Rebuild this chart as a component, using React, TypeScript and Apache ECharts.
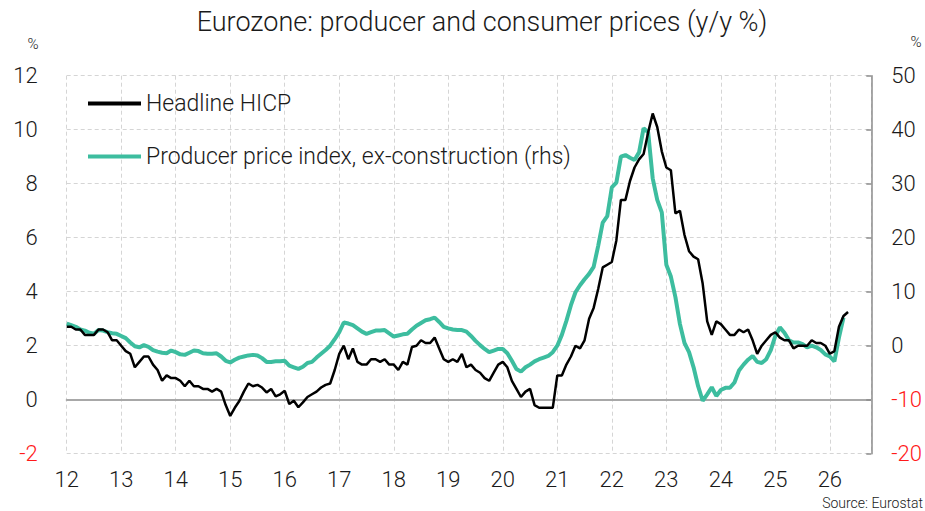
import { useEffect, useRef } from "react";
import * as echarts from "echarts";

const START_YEAR = 2012;
const X_MAX = 2026.76;

const hicpName = "Headline HICP";
const ppiName = "Producer price index, ex-construction (rhs)";
const titleText = "Eurozone: producer and consumer prices (y/y %)";
const sourceText = "Source: Eurostat";

// Monthly, Jan 2012 onwards (y/y %)
const hicp = [
  2.7, 2.7, 2.6, 2.6, 2.4, 2.4, 2.4, 2.6, 2.6, 2.5, 2.2, 2.2,
  2.0, 1.8, 1.7, 1.2, 1.4, 1.6, 1.6, 1.3, 1.1, 0.7, 0.9, 0.8,
  0.8, 0.7, 0.5, 0.7, 0.5, 0.5, 0.4, 0.4, 0.3, 0.4, 0.3, -0.2,
  -0.6, -0.3, -0.05, 0.3, 0.6, 0.5, 0.55, 0.45, 0.27, 0.4, 0.12, 0.2,
  0.33, -0.16, -0.04, -0.28, -0.1, 0.1, 0.2, 0.3, 0.45, 0.55, 0.6, 1.1,
  1.7, 2.0, 1.5, 1.9, 1.4, 1.3, 1.3, 1.5, 1.5, 1.4, 1.5, 1.3,
  1.3, 1.1, 1.4, 1.3, 1.95, 2.0, 2.2, 2.1, 2.1, 2.3, 1.9, 1.5,
  1.4, 1.5, 1.4, 1.7, 1.2, 1.3, 1.1, 1.0, 0.8, 0.7, 1.0, 1.3,
  1.4, 1.2, 0.7, 0.4, 0.1, 0.3, 0.4, -0.2, -0.3, -0.3, -0.3, -0.3,
  0.9, 0.9, 1.3, 1.6, 2.0, 1.9, 2.2, 3.0, 3.4, 4.1, 4.9, 5.0,
  5.1, 5.9, 7.4, 7.4, 8.1, 8.6, 8.9, 9.1, 9.9, 10.6, 10.1, 9.2,
  8.6, 8.5, 6.9, 7.0, 6.1, 5.5, 5.3, 5.2, 4.3, 2.9, 2.4, 2.9,
  2.8, 2.6, 2.4, 2.4, 2.6, 2.5, 2.6, 2.2, 1.7, 2.0, 2.2, 2.4,
  2.5, 2.3, 2.2, 2.2, 1.9, 2.0, 2.0, 2.0, 2.2, 2.1, 2.1, 2.0,
  1.7, 1.8, 2.7, 3.1, 3.25,
];

const ppi = [
  4.1, 3.8, 3.5, 3.0, 2.8, 2.4, 2.2, 2.9, 2.8, 2.5, 2.3, 2.2,
  1.8, 1.4, 0.6, -0.1, -0.3, 0.1, -0.2, -0.8, -1.1, -1.3, -1.4, -0.9,
  -1.2, -1.6, -1.7, -1.3, -0.9, -1.0, -1.4, -1.5, -1.5, -1.4, -2.0, -2.8,
  -3.1, -2.6, -2.2, -2.0, -1.8, -1.7, -1.8, -2.3, -3.0, -3.0, -2.9, -2.9,
  -2.8, -3.7, -4.0, -4.3, -3.9, -3.2, -3.0, -2.2, -1.5, -0.8, 0.0, 1.2,
  2.5, 4.3, 4.1, 3.8, 3.2, 2.6, 2.2, 2.5, 2.8, 2.8, 2.9, 2.3,
  1.7, 1.9, 2.1, 2.2, 3.0, 3.7, 4.2, 4.7, 4.9, 5.2, 4.4, 3.5,
  3.2, 3.0, 2.9, 2.9, 2.6, 1.8, 0.9, 0.1, -0.6, -1.2, -0.9, -0.6,
  -0.6, -1.4, -2.8, -4.3, -4.8, -4.0, -3.5, -2.9, -2.5, -2.2, -1.9, -1.2,
  0.0, 2.0, 4.6, 7.5, 9.9, 11.2, 12.3, 13.3, 14.6, 18.5, 22.8, 24.0,
  29.3, 30.2, 35.0, 35.3, 34.8, 34.4, 35.8, 40.3, 39.5, 31.0, 27.0, 24.7,
  15.0, 12.8, 9.0, 4.0, 0.5, -1.2, -4.0, -7.5, -10.2, -9.0, -7.7, -9.3,
  -8.2, -7.8, -7.8, -6.8, -4.6, -3.5, -2.6, -1.9, -3.0, -3.2, -2.5, -0.8,
  1.8, 3.4, 2.4, 1.0, 0.6, 0.6, 0.3, -0.3, 0.0, -0.3, -0.8, -1.6,
  -2.0, -2.9, 1.5, 5.2,
];

const FONT = "Roboto, 'Open Sans', 'DejaVu Sans', sans-serif";
const WEIGHT = 300;
const TEXT = "#1a1a1a";
const RED = "#ff1a1a";
const GRID = "#d5d5d5";
const TEAL = "#3dbd9f";

const toXY = (arr: number[]) => arr.map((v, i) => [START_YEAR + i / 12, v]);

export default function App() {
  const ref = useRef<HTMLDivElement>(null);

  useEffect(() => {
    if (!ref.current) return;
    const chart = echarts.init(ref.current, null, { renderer: "svg" });
    const yearLabel = (v: number) =>
      Math.abs(v - Math.round(v)) < 1e-6 ? String(Math.round(v) % 100).padStart(2, "0") : "";
    const labelStyle = { fontSize: 22, fontFamily: FONT, fontWeight: WEIGHT };
    chart.setOption({
      animation: false,
      textStyle: { fontFamily: FONT, fontWeight: WEIGHT },
      grid: { left: 66.7, right: 50.7, top: 75.7, bottom: 57.3, containLabel: false },
      legend: {
        orient: "vertical",
        left: 88,
        top: 92,
        padding: 0,
        icon: "rect",
        itemWidth: 53,
        itemHeight: 4,
        itemGap: 30,
        textStyle: { fontSize: 23, fontFamily: FONT, fontWeight: WEIGHT, color: TEXT, lineHeight: 22 },
        data: [hicpName, ppiName],
      },
      xAxis: [
        {
          type: "value",
          min: START_YEAR,
          max: X_MAX,
          interval: 1,
          axisLine: { show: false },
          axisTick: { show: false },
          axisLabel: {
            ...labelStyle,
            formatter: yearLabel,
            color: TEXT,
            margin: 15,
            showMaxLabel: false,
          },
          splitLine: { show: true, lineStyle: { type: [4, 3], color: GRID, width: 1 } },
        },
        {
          type: "value",
          min: START_YEAR,
          max: X_MAX,
          axisLine: {
            show: true,
            onZero: true,
            onZeroAxisIndex: 0,
            lineStyle: { color: "#a8a8a8", width: 2 },
          },
          axisTick: { show: false },
          axisLabel: { show: false },
          splitLine: { show: false },
        },
      ],
      yAxis: [
        {
          type: "value",
          min: -2,
          max: 12,
          interval: 2,
          position: "left",
          axisLine: { show: false },
          axisTick: { show: false },
          axisLabel: {
            ...labelStyle,
            margin: 29,
            color: (v: number) => (v < 0 ? RED : TEXT),
          },
          splitLine: { show: true, lineStyle: { type: [4, 3], color: GRID, width: 1 } },
        },
        {
          type: "value",
          min: -20,
          max: 50,
          interval: 10,
          position: "right",
          axisLine: { show: true, lineStyle: { color: "#8c8c8c", width: 1.5 } },
          axisTick: { show: true, inside: true, length: 5, lineStyle: { color: "#8c8c8c", width: 1.5 } },
          axisLabel: {
            ...labelStyle,
            margin: 20,
            color: (v: number) => (v < 0 ? RED : TEXT),
          },
          splitLine: { show: false },
        },
      ],
      series: [
        {
          name: ppiName,
          type: "line",
          xAxisIndex: 0,
          yAxisIndex: 1,
          data: toXY(ppi),
          symbol: "none",
          lineStyle: { color: TEAL, width: 4 },
          itemStyle: { color: TEAL },
          z: 2,
        },
        {
          name: hicpName,
          type: "line",
          xAxisIndex: 0,
          yAxisIndex: 0,
          data: toXY(hicp),
          symbol: "none",
          lineStyle: { color: "#000000", width: 2.5 },
          itemStyle: { color: "#000000" },
          z: 3,
        },
      ],
      graphic: [
        {
          type: "text",
          x: 482,
          y: 22,
          style: {
            text: titleText,
            fontSize: 27,
            fontFamily: FONT,
            fontWeight: WEIGHT,
            fill: TEXT,
            align: "center",
            verticalAlign: "middle",
          },
        },
        {
          type: "text",
          x: 33,
          y: 44,
          style: { text: "%", fontSize: 15, fontFamily: FONT, fontWeight: WEIGHT, fill: TEXT, align: "center", verticalAlign: "middle" },
        },
        {
          type: "text",
          x: 916,
          y: 42,
          style: { text: "%", fontSize: 15, fontFamily: FONT, fontWeight: WEIGHT, fill: TEXT, align: "center", verticalAlign: "middle" },
        },
        {
          type: "text",
          x: 923,
          y: 503,
          style: { text: sourceText, fontSize: 14, fontFamily: FONT, fontWeight: WEIGHT, fill: TEXT, align: "right", verticalAlign: "middle" },
        },
      ],
    });
    return () => chart.dispose();
  }, []);

  return (
    <div
      ref={ref}
      style={{ position: "absolute", left: 0, top: 0, width: 925, height: 511 }}
    />
  );
}
